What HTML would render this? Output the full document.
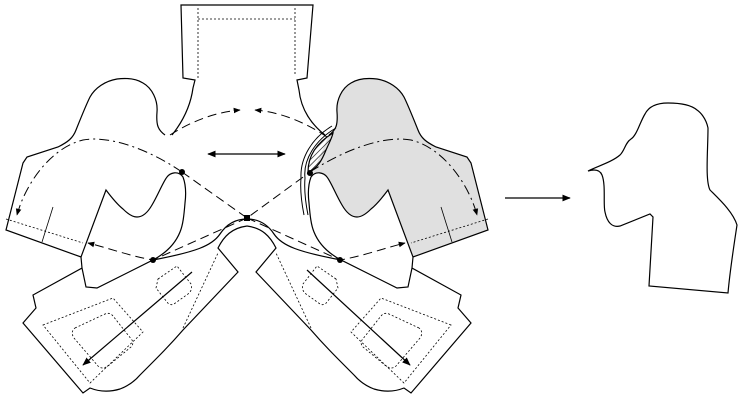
<!DOCTYPE html>
<html><head><meta charset="utf-8"><style>
html,body{margin:0;padding:0;background:#fff}
svg{display:block}
</style></head><body>
<svg width="745" height="402" viewBox="0 0 745 402" xmlns="http://www.w3.org/2000/svg">
<defs>
<pattern id="h" width="4" height="4" patternUnits="userSpaceOnUse" patternTransform="rotate(45)">
<line x1="0" y1="0" x2="0" y2="4" stroke="#000" stroke-width="1.2"/>
</pattern>
<marker id="a" viewBox="0 0 10 10" refX="9" refY="5" markerWidth="7" markerHeight="7" orient="auto-start-reverse">
<path d="M0,1 L10,5 L0,9 z" fill="#000"/>
</marker>
<path id="body" d="M165,135 C158,130 156,125 157,112 C158,100 152,88 143,83 C135,78 125,78 117,79 C105,81 95,88 90,97 C86,105 80,120 76,130 C73,138 68,142 58,147 L27,157 L23,163 L6,230 L81,257 L106,190 C112,198 118,205 123,209 C128,214 133,217 137,217 C143,217 148,212 152,205 C158,195 163,182 167,177 C170,173 178,170 183,177 C186,185 186,195 185,203 C184,215 183,225 180,232 C176,242 168,252 153,260"/>
<path id="bodyfill" d="M165,135 C158,130 156,125 157,112 C158,100 152,88 143,83 C135,78 125,78 117,79 C105,81 95,88 90,97 C86,105 80,120 76,130 C73,138 68,142 58,147 L27,157 L23,163 L6,230 L81,257 L106,190 C112,198 118,205 123,209 C128,214 133,217 137,217 C143,217 148,212 152,205 C158,195 163,182 167,177 C170,173 178,170 183,177 Z"/>
<path id="sleeve" d="M81,257 L82,268 L33,295 L36,308 L23,323 L83,393 L90,388 C100,392 110,392 120,389 C128,386 134,382 140,375 C160,355 170,345 183,330 L238,272 L218,248 C224,236 232,228 247,226 M247,219 C238,219 228,222 220,234 C212,246 195,252 153,260 L97,288 L86,287 L82,268"/>
</defs>
<g fill="none" stroke="#000" stroke-width="1.2">
<!-- collar -->
<path d="M172,135 C180,125 190,110 193,88 L195,80 L183,78 L181,5 L313,5 L307,78 L297,80 L299,90 C301,110 312,125 325,135"/>
<path d="M198,8 V78 M198,19 H295 M295,8 V75" stroke-dasharray="2,2" stroke-width="0.8"/>
<!-- right body fill -->
<use href="#bodyfill" transform="matrix(-1 0 0 1 494 0)" fill="#e0e0e0" stroke="none"/>
<!-- bodies -->
<use href="#body"/>
<use href="#body" transform="matrix(-1 0 0 1 494 0)"/>
<path d="M6,219 L83,243" stroke-dasharray="2,2" stroke-width="0.8"/>
<path d="M53,207 L42,242" stroke-width="0.8"/>
<path d="M488,219 L411,243" stroke-dasharray="2,2" stroke-width="0.8"/>
<path d="M441,207 L452,242" stroke-width="0.8"/>
<!-- sleeves -->
<use href="#sleeve"/>
<use href="#sleeve" transform="matrix(-1 0 0 1 494 0)"/>
<g stroke-dasharray="2,2" stroke-width="0.8">
<path d="M43,325 L113,298 L143,332 L90,383 Z"/>
<path d="M75,328 L105,314 Q110,312 113,316 L132,340 Q134,344 131,347 L108,366 Q102,370 98,366 L74,338 Q70,332 75,328 Z"/>
<path d="M158,279 L177,266 L191,284 Q193,290 188,294 L174,304 Q170,306 167,302 L156,288 Z"/>
<path d="M183,328 L218,253"/>
<g transform="matrix(-1 0 0 1 494 0)">
<path d="M43,325 L113,298 L143,332 L90,383 Z"/>
<path d="M75,328 L105,314 Q110,312 113,316 L132,340 Q134,344 131,347 L108,366 Q102,370 98,366 L74,338 Q70,332 75,328 Z"/>
<path d="M158,279 L177,266 L191,284 Q193,290 188,294 L174,304 Q170,306 167,302 L156,288 Z"/>
<path d="M183,328 L218,253"/>
</g>
</g>
<!-- hatched area -->
<path d="M333,133 C318,142 308,155 308,172 C318,168 322,160 326,150 C329,143 332,138 333,133 Z" fill="url(#h)"/>
<path d="M336,128 C315,140 303,160 305,178 C304,190 306,205 308,215 M332,126 C312,138 300,158 301,178 C300,190 302,205 304,215" stroke-width="1"/>
<!-- dashed paths -->
<g stroke-dasharray="9,5" stroke-width="1">
<path d="M170,135 C190,122 215,112 240,110" marker-end="url(#a)"/>
<path d="M327,137 C305,122 280,112 255,110" marker-end="url(#a)"/>
<path d="M182,172 L247,218 L310,172"/>
<path d="M247,218 L153,260 C130,256 108,248 88,243" marker-end="url(#a)"/>
<path d="M247,218 L340,260 C363,256 385,248 405,243" marker-end="url(#a)"/>
</g>
<g stroke-dasharray="10,4,2,4" stroke-width="1">
<path d="M182,172 C150,150 110,135 83,140 C50,148 25,185 17,215" marker-end="url(#a)"/>
<path d="M310,172 C344,150 384,135 411,140 C444,148 469,185 477,215" marker-end="url(#a)"/>
</g>
<!-- solid arrows -->
<path d="M208,154 L285,154" marker-start="url(#a)" marker-end="url(#a)"/>
<path d="M192,272 L83,365" marker-end="url(#a)"/>
<path d="M307,270 L410,365" marker-end="url(#a)"/>
<path d="M505,198 L570,198" marker-end="url(#a)"/>
<!-- right final shape -->
<path d="M588,171 C595,169 600,170 602,175 C606,185 603,205 605,212 C607,222 612,228 620,226 L650,214 L653,217 L649,286 L728,293 C730,270 734,245 737,225 C733,212 720,200 710,190 C705,180 708,150 708,128 C706,118 700,112 697,110 C690,104 678,103 668,103 C655,103 648,108 645,114 C640,122 637,135 631,139 C625,143 625,150 620,155 C612,162 598,166 588,171 Z"/>
</g>
<circle cx="182" cy="172" r="3"/>
<circle cx="153" cy="260" r="3"/>
<circle cx="340" cy="260" r="3"/>
<circle cx="310" cy="173" r="3"/>
<rect x="244" y="215" width="6" height="6"/>
</svg>
</body></html>
